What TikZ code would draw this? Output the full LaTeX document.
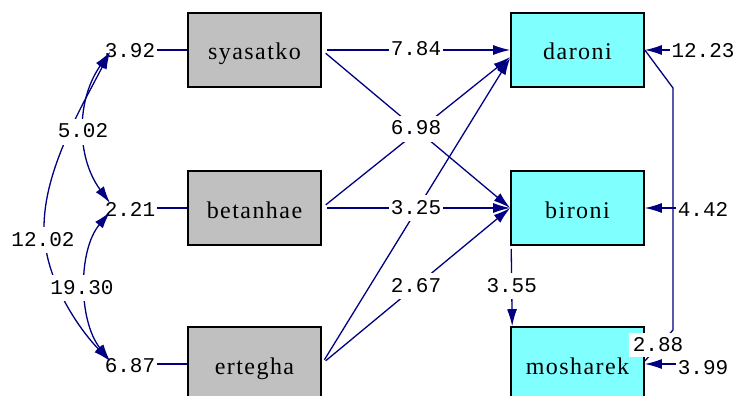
\documentclass[tikz,border=0pt]{standalone}
\usepackage{fontspec}
\newfontfamily\boxfont[LetterSpace=6]{Liberation Serif}
\newfontfamily\numfont{Liberation Mono}
\usetikzlibrary{arrows.meta}
\definecolor{navy}{HTML}{000080}
\definecolor{boxgray}{HTML}{C0C0C0}
\definecolor{boxcyan}{HTML}{80FFFF}
\begin{document}
\begin{tikzpicture}[x=1pt,y=1pt,
  var/.style={draw=black, line width=1.6pt, minimum width=133pt, minimum height=74pt,
    inner sep=0pt, font=\boxfont\fontsize{24}{28}\selectfont, text height=22pt, text depth=2pt},
  exo/.style={var, fill=boxgray},
  endo/.style={var, fill=boxcyan},
  num/.style={font=\numfont\fontsize{21}{24}\selectfont, text=black, inner xsep=1.5pt,
    inner ysep=7pt, text height=12pt, text depth=0pt},
  numbg/.style={num, fill=white},
  link/.style={draw=navy, line width=1.3pt},
  tip/.tip={Latex[length=17pt,width=10pt]},
  arr/.style={link, -tip},
  cov/.style={link, tip-tip},
]
\useasboundingbox (0,0) rectangle (737,-396);

% variables
\node[exo]  (sy)  at (254.5,-50)  {syasatko};
\node[exo]  (bet) at (254.5,-208) {betanhae};
\node[exo]  (ert) at (254.5,-364) {ertegha};
\node[endo] (dar) at (577.5,-50)  {daroni};
\node[endo] (bir) at (577.5,-208) {bironi};
\node[endo] (mos) at (577.5,-364) {mosharek};

% variances of exogenous variables
\node[num] (v1) at (130,-52)  {3.92};
\node[num] (v2) at (130,-210) {2.21};
\node[num] (v3) at (130,-366) {6.87};
\draw[link] (sy.west -| v1.east) -- (sy.west);
\draw[link] (bet.west -| v2.east) -- (bet.west);
\draw[link] (ert.west -| v3.east) -- (ert.west);

% covariances
\coordinate (c1) at (110,-52);
\coordinate (c2a) at (110,-203);
\coordinate (c2b) at (110,-212);
\coordinate (c3) at (110,-361);
\coordinate (m12) at (44,-228);
\draw[cov] (c1) .. controls (76,-100) and (76,-157) .. (c2a);
\draw[cov] (c2b) .. controls (78,-250) and (78,-320) .. (c3);
\draw[cov] (c1) .. controls (80,-110) and (44,-170) .. (m12)
                .. controls (44,-280) and (80,-330) .. (c3);
\node[numbg] (k502)  at (83,-132) {5.02};
\node[numbg] (k1202) at (43,-240) {12.02};
\node[numbg] (k1930) at (82,-288) {19.30};

% structural paths
\draw[arr, shorten <=5pt] (sy.east)  -- (dar.west) node[numbg, midway] (p784) {7.84};
\draw[arr, shorten <=5pt] (bet.east) -- ([yshift=-7pt]dar.west);
\draw[arr, shorten <=5pt] (ert.east) -- ([yshift=-8pt]dar.west);
\draw[arr, shorten <=5pt] (sy.east)  -- (bir.west) node[numbg, midway] (p698) {6.98};
\draw[arr, shorten <=5pt] (ert.east) -- (bir.west) node[numbg, midway] (p267) {2.67};
\draw[arr, shorten <=5pt] (bet.east) -- (bir.west) node[numbg, midway] (p325) {3.25};
\node[numbg] at (p698) {6.98};
\node[numbg] at (p325) {3.25};

% bironi -> mosharek
\draw[arr, shorten <=3pt] ([xshift=1pt]bir.south west) -- ([xshift=2pt]mos.north west)
  node[numbg, midway] (p355) {3.55};

% error variances
\node[num] (e1) at (703,-52)  {12.23};
\node[num] (e2) at (703,-210) {4.42};
\node[num] (e3) at (703,-368) {3.99};
\draw[arr] (e1.west |- dar.east) -- (dar.east);
\draw[arr] (e2.west |- bir.east) -- (bir.east);
\draw[arr] (e3.west |- mos.east) -- (mos.east);

% error covariance daroni -- mosharek
\coordinate (k1) at (673,-88);
\coordinate (k2) at (673,-330);
\draw[link] (dar.east) -- (k1) -- (k2) -- ([yshift=3pt]mos.east);
\node[numbg, inner ysep=6pt, inner xsep=4pt] (q288) at (658,-345) {2.88};
\end{tikzpicture}
\end{document}
